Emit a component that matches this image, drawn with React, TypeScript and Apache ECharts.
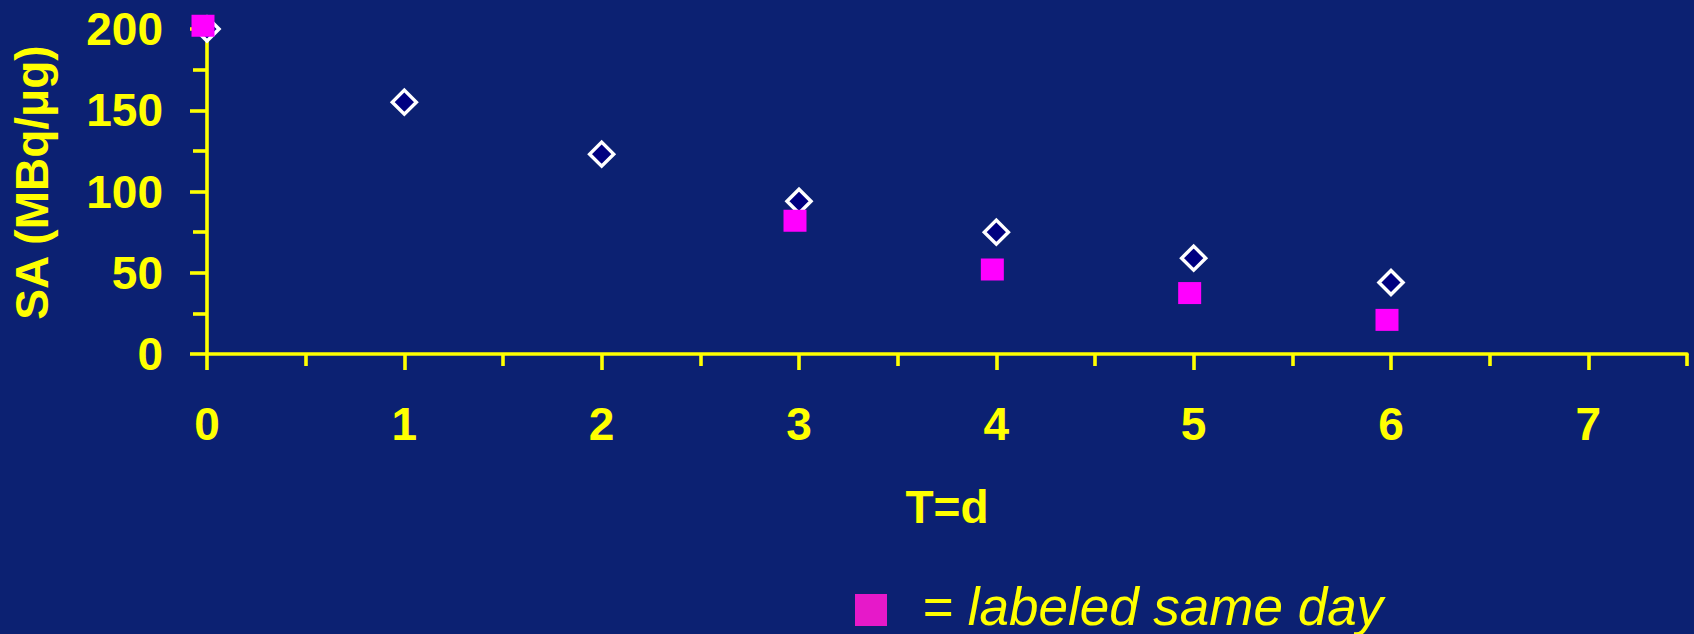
import React, { useEffect, useRef } from "react";
import * as echarts from "echarts";

// Data
const storedDays = [0, 1, 2, 3, 4, 5, 6];
const storedSA = [200, 155, 123, 94, 75, 59, 44];
const sameDayDays = [0, 3, 4, 5, 6];
const sameDaySA = [202, 82, 52, 37.5, 21];

const xMajorTicks = [0, 1, 2, 3, 4, 5, 6, 7];
const xMinorTicks = [0.5, 1.5, 2.5, 3.5, 4.5, 5.5, 6.5, 7.5];
const yTicks = [0, 50, 100, 150, 200];

const xName = "T=d";
const yName = "SA (MBq/μg)";
const legendText = "= labeled same day";

const YELLOW = "#FFFF00";
const BG = "#0C2172";
const FONT = "'Liberation Sans', Arial, sans-serif";
const LINE_W = 3.6;

export default function App() {
  const ref = useRef<HTMLDivElement>(null);

  useEffect(() => {
    if (!ref.current) return;
    const chart = echarts.init(ref.current, undefined, { renderer: "svg" });

    const storedData = storedDays.map((d, i) => [d, storedSA[i]]);
    const sameData = sameDayDays.map((d, i) => [d, sameDaySA[i]]);

    const labelStyle = {
      color: YELLOW,
      fontSize: 46,
      fontWeight: "bold" as const,
      fontFamily: FONT,
    };

    chart.setOption({
      animation: false,
      backgroundColor: BG,
      grid: { left: 207, top: 29, right: 7, bottom: 280, containLabel: false },
      xAxis: [
        {
          type: "value",
          min: 0,
          max: 7.5,
          position: "bottom",
          axisLine: { show: true, lineStyle: { color: YELLOW, width: LINE_W } },
          axisTick: {
            show: true,
            length: 16,
            customValues: xMajorTicks,
            lineStyle: { color: YELLOW, width: LINE_W },
          },
          axisLabel: {
            show: true,
            customValues: xMajorTicks,
            margin: 47,
            ...labelStyle,
          },
          splitLine: { show: false },
          name: xName,
          nameLocation: "middle",
          nameGap: 130,
          nameTextStyle: { ...labelStyle },
        },
        {
          type: "value",
          min: 0,
          max: 7.5,
          position: "bottom",
          axisLine: { show: false },
          axisTick: {
            show: true,
            length: 12,
            customValues: xMinorTicks,
            lineStyle: { color: YELLOW, width: LINE_W },
          },
          axisLabel: { show: false },
          splitLine: { show: false },
        },
      ],
      yAxis: {
        type: "value",
        min: 0,
        max: 200,
        interval: 50,
        axisLine: { show: true, lineStyle: { color: YELLOW, width: LINE_W } },
        axisTick: {
          show: true,
          length: 17,
          customValues: yTicks,
          lineStyle: { color: YELLOW, width: LINE_W },
        },
        minorTick: {
          show: true,
          splitNumber: 2,
          length: 14,
          lineStyle: { color: YELLOW, width: LINE_W },
        },
        axisLabel: { margin: 44, ...labelStyle },
        splitLine: { show: false },
        minorSplitLine: { show: false },
        name: yName,
        nameLocation: "middle",
        nameGap: 152,
        nameTextStyle: { ...labelStyle, padding: [0, 0, 0, 18] },
      },
      series: [
        {
          type: "scatter",
          name: "stored",
          data: storedData,
          xAxisIndex: 0,
          symbol: "diamond",
          symbolSize: 24,
          clip: false,
          itemStyle: { color: "#000080", borderColor: "#FFFFFF", borderWidth: 3.5, opacity: 1 },
          z: 2,
        },
        {
          type: "scatter",
          name: "labeled same day",
          data: sameData,
          xAxisIndex: 0,
          symbol: "rect",
          symbolSize: [23, 22],
          symbolOffset: [-4, 0],
          clip: false,
          itemStyle: { color: "#FF00FF", opacity: 1 },
          z: 3,
        },
      ],
      graphic: [
        {
          type: "rect",
          shape: { x: 855, y: 594, width: 32, height: 32 },
          style: { fill: "#E619C9" },
        },
        {
          type: "text",
          x: 922,
          y: 606,
          style: {
            text: legendText,
            fill: YELLOW,
            fontSize: 53,
            fontStyle: "italic",
            fontFamily: FONT,
            align: "left",
            verticalAlign: "middle",
          },
        },
      ],
    });

    return () => chart.dispose();
  }, []);

  return (
    <div
      ref={ref}
      style={{ position: "absolute", left: 0, top: 0, width: 1694, height: 634 }}
    />
  );
}
